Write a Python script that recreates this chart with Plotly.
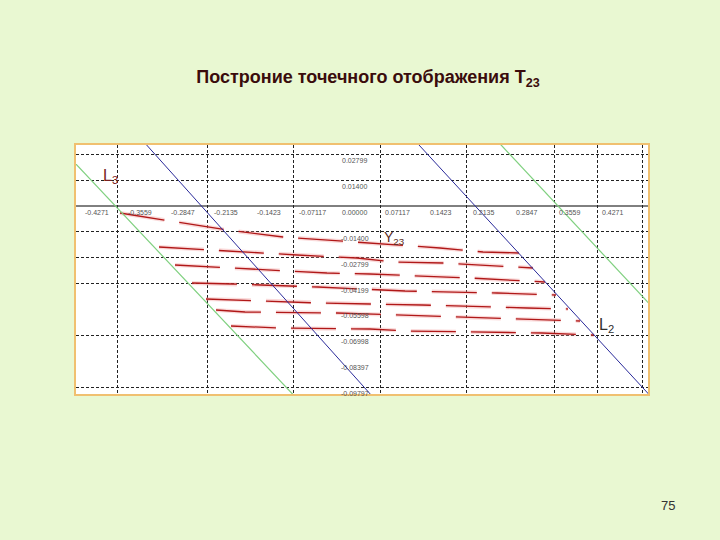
import plotly.graph_objects as go

# ---- axis labels (drawn along the axes, inside the plot) ----
x_label_vals = [-0.4271, -0.3559, -0.2847, -0.2135, -0.1423, -0.07117, 0.0,
                0.07117, 0.1423, 0.2135, 0.2847, 0.3559, 0.4271]
x_label_text = ["-0.4271", "-0.3559", "-0.2847", "-0.2135", "-0.1423", "-0.07117", "0.00000",
                "0.07117", "0.1423", "0.2135", "0.2847", "0.3559", "0.4271"]
y_label_vals = [0.02799, 0.01400, -0.01400, -0.02799, -0.04199, -0.05598,
                -0.06998, -0.08397, -0.09797]
y_label_text = ["0.02799", "0.01400", "-0.01400", "-0.02799", "-0.04199", "-0.05598",
                "-0.06998", "-0.08397", "-0.09797"]

# ---- grid lines (Mathcad-like irregular grid) ----
grid_x = [-0.3924, -0.2450, -0.1026, 0.0414, 0.1854, 0.3311, 0.4023, 0.4768]
grid_y = [0.02799, 0.01400, -0.01400, -0.02799, -0.04199, -0.06998, -0.09797]

# ---- boundary lines ----
l3_x = [-0.5306, -0.0629]          # green, left (L3)
l3_y = [0.0465, -0.1158]
g2_x = [0.2033, 0.6669]            # green, right
g2_y = [0.0465, -0.1158]
b1_x = [-0.3820, 0.0639]           # blue, left
b1_y = [0.0465, -0.1158]
l2_x = [0.0679, 0.5257]            # blue, right (L2)
l2_y = [0.0465, -0.1158]

# ---- point-map trajectories T23 (red dashed) ----
r1_x = [-0.3891, -0.2119, -0.1192, 0.0248, 0.1407, 0.2119, 0.2715]
r1_y = [-0.00379, -0.01299, -0.01677, -0.02002, -0.02273, -0.02489, -0.02543]
r2_x = [-0.3245, -0.1854, -0.0960, 0.0033, 0.0629, 0.1457, 0.2401, 0.2947]
r2_y = [-0.02219, -0.02489, -0.02652, -0.02814, -0.03030, -0.03084, -0.03247, -0.03355]
r3_x = [-0.2980, -0.1623, -0.0464, 0.0248, 0.0745, 0.1904, 0.3146]
r3_y = [-0.03193, -0.03409, -0.03626, -0.03680, -0.03734, -0.03896, -0.04113]
r4_x = [-0.2699, -0.2020, -0.0613, 0.0248, 0.0828, 0.2351, 0.3328]
r4_y = [-0.04167, -0.04221, -0.04383, -0.04491, -0.04600, -0.04708, -0.04816]
r5_x = [-0.2467, -0.0613, 0.0248, 0.1109, 0.2848, 0.3526]
r5_y = [-0.05032, -0.05249, -0.05303, -0.05357, -0.05519, -0.05574]
r6_x = [-0.2301, -0.1821, -0.0298, 0.0248, 0.2450, 0.3725]
r6_y = [-0.05628, -0.05736, -0.05790, -0.05844, -0.06061, -0.06223]
r7_x = [-0.2053, -0.1242, 0.0248, 0.0877, 0.3096, 0.3957]
r7_y = [-0.06494, -0.06602, -0.06656, -0.06764, -0.06872, -0.06981]

red_x = [r1_x, r2_x, r3_x, r4_x, r5_x, r6_x, r7_x]
red_y = [r1_y, r2_y, r3_y, r4_y, r5_y, r6_y, r7_y]

BG = "#e9f8d2"

fig = go.Figure()

# faint pink halo under red curves
for xs, ys in zip(red_x, red_y):
    fig.add_trace(go.Scatter(x=xs, y=ys, mode="lines",
                             line=dict(color="rgba(240,150,150,0.35)", width=4, dash="45px,15px"),
                             hoverinfo="skip", showlegend=False))
for xs, ys in zip(red_x, red_y):
    fig.add_trace(go.Scatter(x=xs, y=ys, mode="lines",
                             line=dict(color="#b01818", width=1.3, dash="45px,15px"),
                             showlegend=False))

fig.add_trace(go.Scatter(x=l3_x, y=l3_y, mode="lines",
                         line=dict(color="#7fd07f", width=1.2), showlegend=False))
fig.add_trace(go.Scatter(x=g2_x, y=g2_y, mode="lines",
                         line=dict(color="#7fd07f", width=1.2), showlegend=False))
fig.add_trace(go.Scatter(x=b1_x, y=b1_y, mode="lines",
                         line=dict(color="#2a2a9a", width=1), showlegend=False))
fig.add_trace(go.Scatter(x=l2_x, y=l2_y, mode="lines",
                         line=dict(color="#2a2a9a", width=1), showlegend=False))

annotations = []
tick_font = dict(family="Liberation Sans, Arial", size=7, color="#555555")
for v, t in zip(x_label_vals, x_label_text):
    annotations.append(dict(x=v, y=0, text=t, showarrow=False, xanchor="center",
                            yanchor="top", yshift=-1, font=tick_font))
for v, t in zip(y_label_vals, y_label_text):
    annotations.append(dict(x=0, y=v, text=t, showarrow=False, xanchor="center",
                            yanchor="top", yshift=-1, font=tick_font))

annotations += [
    dict(x=-0.4056, y=0.0157, text="L<sub>3</sub>", showarrow=False,
         font=dict(family="Liberation Sans, Arial", size=16, color="#7a2020")),
    dict(x=0.4172, y=-0.0649, text="L<sub>2</sub>", showarrow=False,
         font=dict(family="Liberation Sans, Arial", size=16, color="#303030")),
    dict(x=0.0662, y=-0.0173, text="Y<sub>23</sub>", showarrow=False,
         font=dict(family="Liberation Sans, Arial", size=14, color="#5a2a20")),
    dict(x=(677 - 76) / 572, y=(394 - 515) / 249, xref="paper", yref="paper",
         text="75", showarrow=False,
         font=dict(family="Liberation Sans, Arial", size=13, color="#333333")),
]

fig.update_layout(
    width=720, height=540,
    margin=dict(l=76, r=72, t=145, b=146),
    paper_bgcolor=BG,
    plot_bgcolor="white",
    title=dict(text="<b>Построние точечного отображения T<sub>23</sub></b>",
               x=368 / 720, xanchor="center", y=1 - 77 / 540, yanchor="middle",
               font=dict(family="Liberation Sans, Arial", size=18, color="#3a0c0c")),
    xaxis=dict(range=[-0.4619, 0.4851], tickvals=grid_x, showticklabels=False,
               showgrid=True, gridcolor="#222222", gridwidth=1, griddash="3px,2px",
               zeroline=False, showline=True, mirror=True, linecolor="#f0c070",
               linewidth=2, ticks=""),
    yaxis=dict(range=[-0.10173, 0.03301], tickvals=grid_y, showticklabels=False,
               showgrid=True, gridcolor="#222222", gridwidth=1, griddash="3px,2px",
               zeroline=False, showline=True, mirror=True, linecolor="#f0c070",
               linewidth=2, ticks=""),
    shapes=[dict(type="line", xref="paper", x0=0, x1=1, yref="y", y0=0, y1=0,
                 line=dict(color="black", width=1), layer="below")],
    annotations=annotations,
    showlegend=False,
)

fig.write_html("out.html", config={"displayModeBar": False},
               post_script="document.body.style.margin='0';"
                           "document.body.style.background='" + BG + "';")
